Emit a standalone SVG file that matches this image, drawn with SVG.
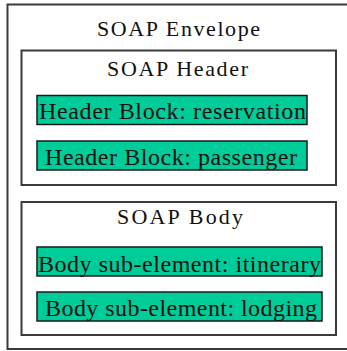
<svg xmlns="http://www.w3.org/2000/svg" width="347" height="351" viewBox="0 0 347 351">
<style>
.frame{fill:#ffffff;stroke:#3a3a3a;stroke-width:2}
.block{fill:#00cc99;stroke:#1a1a1a;stroke-width:1.5}
text{font-family:'Liberation Serif','Times New Roman','DejaVu Serif',serif;fill:#111}
.title{font-size:22px}
.label{font-size:24px}
</style>
<rect width="347" height="351" fill="#ffffff"/>
<g id="envelope">
<rect class="frame" x="7.5" y="4.5" width="345" height="344.5"/>
<text class="title" x="97" y="36" textLength="163" lengthAdjust="spacing">SOAP Envelope</text>
</g>
<g id="header">
<rect class="frame" x="21.5" y="50.5" width="314.5" height="134.5"/>
<text class="title" x="107" y="76" textLength="141" lengthAdjust="spacing">SOAP Header</text>
</g>
<g id="header-reservation">
<rect class="block" x="37" y="95.5" width="270" height="29"/>
<text class="label" x="39" y="119" textLength="267" lengthAdjust="spacing">Header Block: reservation</text>
</g>
<g id="header-passenger">
<rect class="block" x="37" y="141" width="270" height="29"/>
<text class="label" x="45" y="165" textLength="252" lengthAdjust="spacing">Header Block: passenger</text>
</g>
<g id="body">
<rect class="frame" x="21.5" y="202" width="314.5" height="133"/>
<text class="title" x="117" y="224" textLength="126" lengthAdjust="spacing">SOAP Body</text>
</g>
<g id="body-itinerary">
<rect class="block" x="37" y="247" width="285" height="29"/>
<text class="label" x="38" y="272" textLength="283" lengthAdjust="spacing">Body sub-element: itinerary</text>
</g>
<g id="body-lodging">
<rect class="block" x="37" y="292" width="285" height="29"/>
<text class="label" x="45" y="316" textLength="272" lengthAdjust="spacing">Body sub-element: lodging</text>
</g>
<g id="connectors"></g>
</svg>
